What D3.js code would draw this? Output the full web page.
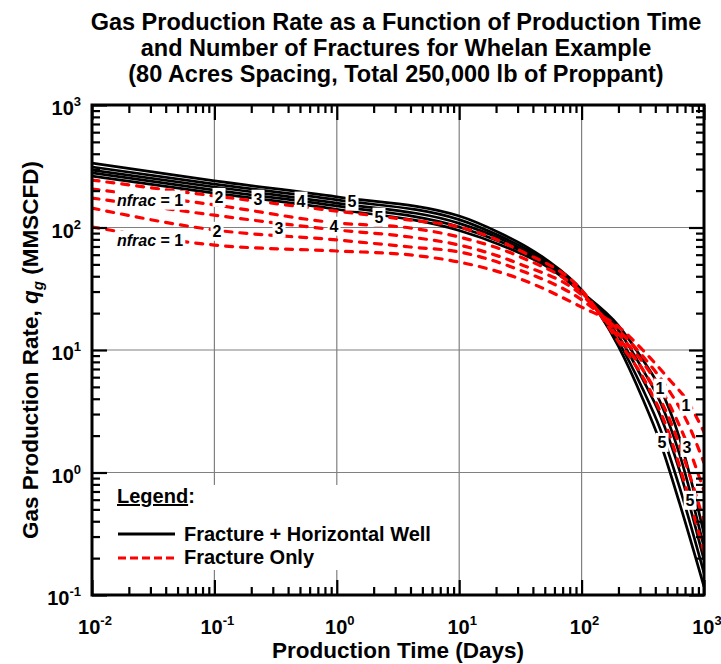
<!DOCTYPE html>
<html>
<head>
<meta charset="utf-8">
<script src="https://cdn.jsdelivr.net/npm/d3@7"></script>
<style>
  body { margin: 0; background: #fff; }
  text { font-family: "Liberation Sans", Arial, sans-serif; font-weight: bold; fill: #000; }
</style>
</head>
<body>
<svg id="chart" width="721" height="664"></svg>
<script>
// production time (days) where the curves were read
const timeHW = [0.01, 0.1, 1, 10, 21.5, 35.8, 52.1, 100, 200, 316, 437, 631, 1000];
const timeFO = [0.01, 0.1, 1, 3.98, 10, 31.6, 100, 200, 316, 525, 724, 1000];

// fracture + horizontal well, gas rate (MMSCFD), nfrac = 1..5
const hw1 = [263, 191, 141, 94.4, 72.4, 58.2, 47.9, 29.5, 15.8, 8.32, 4.90, 1.91, 0.316];
const hw2 = [279, 202, 150, 101, 76.7, 61.0, 49.5, 29.9, 14.5, 6.92, 3.80, 1.41, 0.245];
const hw3 = [294, 214, 158, 108, 81.3, 63.1, 51.3, 30.2, 13.0, 5.75, 2.95, 1.04, 0.193];
const hw4 = [312, 226, 168, 116, 85.1, 66.1, 52.5, 30.5, 11.7, 4.79, 2.29, 0.759, 0.151];
const hw5 = [336, 240, 178, 124, 90.2, 69.2, 54.3, 30.9, 10.7, 3.98, 1.78, 0.562, 0.117];

// fracture only, gas rate (MMSCFD), nfrac = 1..5
const fo1 = [101, 71.9, 64.3, 59.7, 52.2, 38.0, 22.4, 15.5, 10.0, 5.69, 3.89, 2.14];
const fo2 = [144, 95.5, 79.1, 69.3, 63.1, 44.7, 25.7, 14.5, 8.91, 4.57, 2.63, 1.20];
const fo3 = [174, 126, 95.5, 83.6, 71.9, 50.1, 28.2, 13.5, 7.94, 3.55, 1.74, 0.708];
const fo4 = [206, 153, 109, 99.1, 83.6, 57.5, 29.5, 12.6, 6.92, 2.69, 1.12, 0.398];
const fo5 = [244, 181, 136, 115, 101, 64.6, 30.9, 11.7, 6.03, 2.00, 0.708, 0.224];

// curve labels
const labelText = ['nfrac = 1', '2', '3', '4', '5', '5', 'nfrac = 1', '2', '3', '4', '1', '5', '1', '3', '5'];
const labelT = [0.0298, 0.109, 0.227, 0.51, 1.33, 2.21, 0.0298, 0.105, 0.337, 0.949, 437, 454, 713, 726, 769];
const labelQ = [168, 177, 171, 165, 165, 122, 79.1, 93.6, 99.1, 103, 4.90, 1.77, 3.56, 1.61, 0.596];

// axes
const xExponents = [-2, -1, 0, 1, 2, 3];
const yExponents = [-1, 0, 1, 2, 3];
const titleLines = [
  'Gas Production Rate as a Function of Production Time',
  'and Number of Fractures for Whelan Example',
  '(80 Acres Spacing, Total 250,000 lb of Proppant)'
];
const legendNames = ['Fracture + Horizontal Well', 'Fracture Only'];

const svg = d3.select('#chart');
const pLeft = 92, pRight = 704, pTop = 105, pBottom = 595;

const x = d3.scaleLog().domain([1e-2, 1e3]).range([pLeft, pRight]);
const y = d3.scaleLog().domain([1e-1, 1e3]).range([pBottom, pTop]);
const isMajor = v => Math.abs(Math.log10(v) - Math.round(Math.log10(v))) < 1e-9;

svg.append('rect').attr('width', 721).attr('height', 664).attr('fill', '#fff');

// grid
const grid = svg.append('g').attr('stroke', '#808080').attr('stroke-width', 1.2);
grid.selectAll('line.v')
  .data(xExponents.slice(1, -1))
  .join('line')
  .attr('class', 'v')
  .attr('x1', d => x(Math.pow(10, d))).attr('x2', d => x(Math.pow(10, d)))
  .attr('y1', pTop).attr('y2', pBottom);
grid.selectAll('line.h')
  .data(yExponents.slice(1, -1))
  .join('line')
  .attr('class', 'h')
  .attr('y1', d => y(Math.pow(10, d))).attr('y2', d => y(Math.pow(10, d)))
  .attr('x1', pLeft).attr('x2', pRight);

// legend background hides the grid
svg.append('rect')
  .attr('x', 96).attr('y', 485).attr('width', 352).attr('height', 85)
  .attr('fill', '#fff');

svg.append('clipPath').attr('id', 'plot')
  .append('rect').attr('x', pLeft).attr('y', pTop).attr('width', pRight - pLeft).attr('height', pBottom - pTop);

const line = d3.line()
  .x(d => x(d[0]))
  .y(d => y(d[1]))
  .curve(d3.curveMonotoneX);

const hwSeries = [hw1, hw2, hw3, hw4, hw5].map(s => d3.zip(timeHW, s));
const foSeries = [fo1, fo2, fo3, fo4, fo5].map(s => d3.zip(timeFO, s));

const curves = svg.append('g').attr('clip-path', 'url(#plot)').attr('fill', 'none');
curves.selectAll('path.hw')
  .data(hwSeries)
  .join('path')
  .attr('class', 'hw')
  .attr('stroke', '#000')
  .attr('stroke-width', 2.7)
  .attr('d', line);
curves.selectAll('path.fo')
  .data(foSeries)
  .join('path')
  .attr('class', 'fo')
  .attr('stroke', '#ff0000')
  .attr('stroke-width', 3.2)
  .attr('stroke-linecap', 'round')
  .attr('stroke-dasharray', '7,8')
  .attr('d', line);

// curve labels with white boxes
const labels = svg.append('g')
  .selectAll('g')
  .data(labelText.map((s, i) => ({ s, t: labelT[i], q: labelQ[i] })))
  .join('g')
  .attr('transform', d => `translate(${x(d.t)},${y(d.q)})`);
labels.each(function (d) {
  const g = d3.select(this);
  const txt = g.append('text')
    .attr('text-anchor', 'middle')
    .attr('dy', '0.36em')
    .attr('font-size', 16);
  if (d.s.startsWith('nfrac')) {
    txt.append('tspan').attr('font-style', 'italic').text('nfrac');
    txt.append('tspan').text(d.s.slice(5));
  } else {
    txt.text(d.s);
  }
  const b = txt.node().getBBox();
  g.insert('rect', 'text')
    .attr('x', b.x - 2).attr('y', b.y - 1)
    .attr('width', b.width + 4).attr('height', b.height + 2)
    .attr('fill', '#fff');
});

// ticks on all four sides, pointing in
const tickG = svg.append('g');
tickG.append('g').attr('transform', `translate(0,${pBottom})`)
  .call(d3.axisBottom(x).tickFormat('').tickSizeOuter(0))
  .call(g => g.select('.domain').remove())
  .call(g => g.selectAll('.tick line').attr('y2', d => isMajor(d) ? -15 : -8));
tickG.append('g').attr('transform', `translate(0,${pTop})`)
  .call(d3.axisTop(x).tickFormat('').tickSizeOuter(0))
  .call(g => g.select('.domain').remove())
  .call(g => g.selectAll('.tick line').attr('y2', d => isMajor(d) ? 15 : 8));
tickG.append('g').attr('transform', `translate(${pLeft},0)`)
  .call(d3.axisLeft(y).tickFormat('').tickSizeOuter(0))
  .call(g => g.select('.domain').remove())
  .call(g => g.selectAll('.tick line').attr('x2', d => isMajor(d) ? 15 : 8));
tickG.append('g').attr('transform', `translate(${pRight},0)`)
  .call(d3.axisRight(y).tickFormat('').tickSizeOuter(0))
  .call(g => g.select('.domain').remove())
  .call(g => g.selectAll('.tick line').attr('x2', d => isMajor(d) ? -15 : -8));
tickG.selectAll('.tick line').attr('stroke', '#000').attr('stroke-width', 2.2);

svg.append('rect')
  .attr('x', pLeft).attr('y', pTop).attr('width', pRight - pLeft).attr('height', pBottom - pTop)
  .attr('fill', 'none').attr('stroke', '#000').attr('stroke-width', 3);

// tick labels as 10 with superscript
const xLab = svg.append('g').selectAll('text')
  .data(xExponents)
  .join('text')
  .attr('x', d => x(Math.pow(10, d)) + 3)
  .attr('y', 634)
  .attr('text-anchor', 'middle')
  .attr('font-size', 20);
xLab.append('tspan').text('10');
xLab.append('tspan').attr('font-size', 13).attr('dy', -9).text(d => d);

const yLab = svg.append('g').selectAll('text')
  .data(yExponents)
  .join('text')
  .attr('x', 81)
  .attr('y', d => y(Math.pow(10, d)) + 10)
  .attr('text-anchor', 'end')
  .attr('font-size', 20);
yLab.append('tspan').text('10');
yLab.append('tspan').attr('font-size', 13).attr('dy', -9).text(d => d);

// axis titles
svg.append('text')
  .attr('x', (pLeft + pRight) / 2).attr('y', 658)
  .attr('text-anchor', 'middle').attr('font-size', 22.5)
  .text('Production Time (Days)');

const yTitle = svg.append('text')
  .attr('transform', `translate(38,${(pTop + pBottom) / 2}) rotate(-90)`)
  .attr('text-anchor', 'middle').attr('font-size', 22.5);
yTitle.append('tspan').text('Gas Production Rate, ');
yTitle.append('tspan').attr('font-style', 'italic').text('q');
yTitle.append('tspan').attr('font-style', 'italic').attr('font-size', 15).attr('dy', 5).text('g');
yTitle.append('tspan').attr('dy', -5).text(' (MMSCFD)');

// title
svg.append('g').selectAll('text')
  .data(titleLines)
  .join('text')
  .attr('x', 396).attr('y', (d, i) => 30 + i * 26)
  .attr('text-anchor', 'middle').attr('font-size', 23.5)
  .text(d => d);

// legend
const lg = svg.append('g');
const head = lg.append('text').attr('x', 117).attr('y', 503).attr('font-size', 20);
head.append('tspan').style('text-decoration', 'underline').text('Legend');
head.append('tspan').text(':');
lg.selectAll('line')
  .data(legendNames)
  .join('line')
  .attr('x1', 118).attr('x2', 175)
  .attr('y1', (d, i) => 534 + i * 24).attr('y2', (d, i) => 534 + i * 24)
  .attr('stroke', (d, i) => i ? '#ff0000' : '#000')
  .attr('stroke-width', 3)
  .attr('stroke-dasharray', (d, i) => i ? '8,4' : null);
lg.selectAll('text.item')
  .data(legendNames)
  .join('text')
  .attr('class', 'item')
  .attr('x', 184).attr('y', (d, i) => 541 + i * 23)
  .attr('font-size', 20)
  .text(d => d);
</script>
</body>
</html>
